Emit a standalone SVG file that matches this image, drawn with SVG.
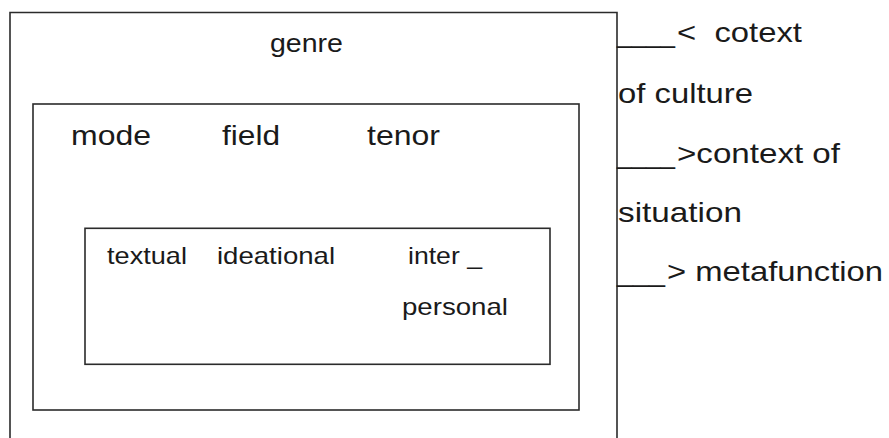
<svg xmlns="http://www.w3.org/2000/svg" width="889" height="438" viewBox="0 0 889 438">
<style>
.box{fill:none;stroke:#2b2b2b;stroke-width:1.6}
text{font-family:"Liberation Sans",Arial,sans-serif;fill:#1a1a1a}
.s{font-size:24px}
.m{font-size:28px}
</style>
<rect width="889" height="438" fill="#fff"/>
<g id="genre">
<path class="box" d="M10,438 V12.5 H617 V438"/>
<text class="s" x="270" y="52" textLength="73" lengthAdjust="spacingAndGlyphs" style="font-size:25px">genre</text>
</g>
<g id="situation-box">
<rect class="box" x="33" y="104" width="546" height="306"/>
<text class="m" x="71" y="145" textLength="80" lengthAdjust="spacingAndGlyphs">mode</text>
<text class="m" x="222" y="145" textLength="58" lengthAdjust="spacingAndGlyphs">field</text>
<text class="m" x="367" y="145" textLength="73" lengthAdjust="spacingAndGlyphs">tenor</text>
</g>
<g id="metafunction-box">
<rect class="box" x="85" y="228.3" width="465" height="136"/>
<text class="s" x="107" y="264" textLength="80" lengthAdjust="spacingAndGlyphs">textual</text>
<text class="s" x="217" y="264" textLength="118" lengthAdjust="spacingAndGlyphs">ideational</text>
<text class="s" x="408" y="264" textLength="74" lengthAdjust="spacingAndGlyphs">inter _</text>
<text class="s" x="402" y="315" textLength="106" lengthAdjust="spacingAndGlyphs">personal</text>
</g>
<g id="connectors">
<text class="m" y="42" xml:space="preserve"><tspan x="617" textLength="58" lengthAdjust="spacingAndGlyphs">____</tspan><tspan x="677" textLength="125" lengthAdjust="spacingAndGlyphs">&lt;  cotext</tspan></text>
<text class="m" x="618" y="103" textLength="135" lengthAdjust="spacingAndGlyphs">of culture</text>
<text class="m" y="163"><tspan x="617" textLength="58" lengthAdjust="spacingAndGlyphs">____</tspan><tspan x="677" textLength="163" lengthAdjust="spacingAndGlyphs">&gt;context of</tspan></text>
<text class="m" x="618" y="222" textLength="124" lengthAdjust="spacingAndGlyphs">situation</text>
<text class="m" y="281"><tspan x="617" textLength="48" lengthAdjust="spacingAndGlyphs">___</tspan><tspan x="667" textLength="216" lengthAdjust="spacingAndGlyphs">&gt; metafunction</tspan></text>
</g>
</svg>
